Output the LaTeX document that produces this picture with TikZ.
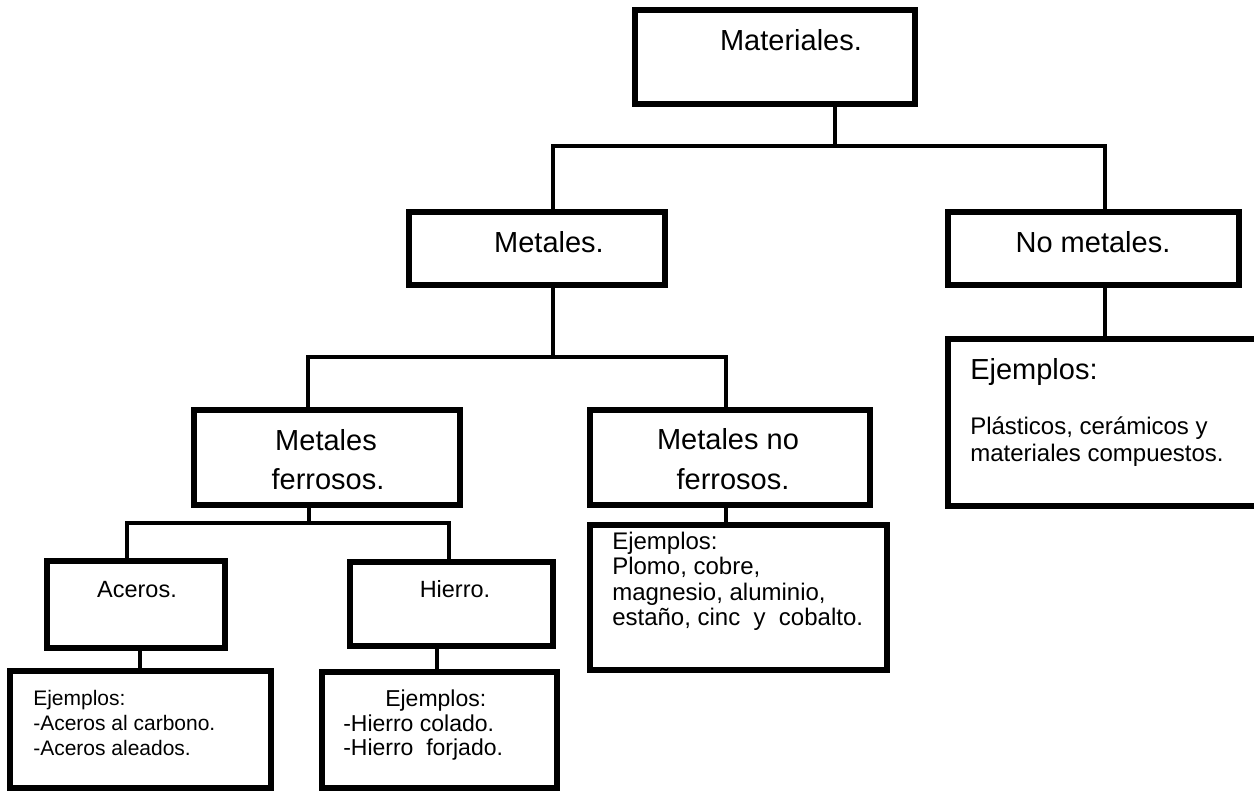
\documentclass[tikz,border=0pt]{standalone}
\usepackage{fontspec}
\setmainfont{Liberation Sans}
\usetikzlibrary{fit}
\begin{document}
\begin{tikzpicture}[x=0.75pt,y=-0.75pt,
  box/.style={draw, line width=4.5pt, inner sep=0pt, rectangle},
  conn/.style={line width=2.6pt, line join=miter},
  txt/.style={inner sep=0pt, anchor=base},
  ltxt/.style={inner sep=0pt, anchor=base west},
  big/.style={font=\fontsize{21.75}{26}\selectfont},
  mid/.style={font=\fontsize{17.6}{21}\selectfont},
  exa/.style={font=\fontsize{18}{22}\selectfont},
  exs/.style={font=\fontsize{15.75}{19}\selectfont},
  exh/.style={font=\fontsize{17.25}{21}\selectfont}]
\clip (0,0) rectangle (1254,791);
% boxes
\node[box, fit={(635,10) (915,104)}] (mat) {};
\node[box, fit={(409,212) (665,285)}] (met) {};
\node[box, fit={(948,212) (1239,285)}] (nom) {};
\node[box, fit={(194,410) (460,505)}] (mf) {};
\node[box, fit={(590,410) (870,505)}] (mnf) {};
\node[box, fit={(47,561) (225,648)}] (ace) {};
\node[box, fit={(350,562) (553,646)}] (hie) {};
\node[box, fit={(10,671) (271,788)}] (acej) {};
\node[box, fit={(322,672) (557,788)}] (hiej) {};
\node[box, fit={(590,525) (887,670)}] (mnfej) {};
\node[box, fit={(948,339) (1265,506)}] (nomej) {};
% junctions
\coordinate (j1) at (835,146);
\coordinate (h1a) at (553,146);
\coordinate (h1b) at (1105,146);
\coordinate (j2) at (553,357);
\coordinate (h2a) at (308,357);
\coordinate (h2b) at (726,357);
\coordinate (j3) at (309,523);
\coordinate (h3a) at (127,523);
\coordinate (h3b) at (449,523);
% connectors
\draw[conn] (mat.south -| j1) -- (j1);
\draw[conn] (met.north -| h1a) -- (h1a) -- (h1b) -- (nom.north -| h1b);
\draw[conn] (met.south -| j2) -- (j2);
\draw[conn] (mf.north -| h2a) -- (h2a) -- (h2b) -- (mnf.north -| h2b);
\draw[conn] (mf.south -| j3) -- (j3);
\draw[conn] (ace.north -| h3a) -- (h3a) -- (h3b) -- (hie.north -| h3b);
\draw[conn] (ace.south -| 140,0) -- (acej.north -| 140,0);
\draw[conn] (hie.south -| 437,0) -- (hiej.north -| 437,0);
\draw[conn] (mnf.south -| 726,0) -- (mnfej.north -| 726,0);
\draw[conn] (nom.south -| 1105,0) -- (nomej.north -| 1105,0);
% texts
\node[txt,big] (tmat) at (791,51) {Materiales.};
\node[txt,big] (tmet) at (549,253) {Metales.};
\node[txt,big] (tnom) at (1093,253) {No metales.};
\node[txt,big] (tmf1) at (326,451) {Metales};
\node[txt,big] (tmf2) at (328,490) {ferrosos.};
\node[txt,big] (tmnf1) at (728,450) {Metales no};
\node[txt,big] (tmnf2) at (733,490) {ferrosos.};
\node[txt,mid] (tace) at (137,598) {Aceros.};
\node[txt,mid] (thie) at (455,598) {Hierro.};
\node[ltxt,exa] (e1) at (612,550) {Ejemplos:};
\node[ltxt,exa] (e2) at (612,575) {Plomo, cobre,};
\node[ltxt,exa] (e3) at (612,600) {magnesio, aluminio,};
\node[ltxt,exa] (e4) at (612,625) {estaño, cinc\ \ y\ \ cobalto.};
\node[ltxt,big] (n1) at (970,380) {Ejemplos:};
\node[ltxt,exa] (n2) at (970,435) {Plásticos, cerámicos y};
\node[ltxt,exa] (n3) at (970,462) {materiales compuestos.};
\node[ltxt,exs] (a1) at (33,705) {Ejemplos:};
\node[ltxt,exs] (a2) at (33,730) {-Aceros al carbono.};
\node[ltxt,exs] (a3) at (33,755) {-Aceros aleados.};
\node[ltxt,exh] (b1) at (385,706) {Ejemplos:};
\node[ltxt,exh] (b2) at (343,731) {-Hierro colado.};
\node[ltxt,exh] (b3) at (343,755) {-Hierro\ \ forjado.};
\end{tikzpicture}
\end{document}
